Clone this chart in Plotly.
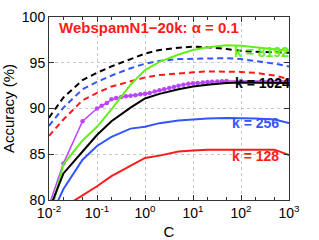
import plotly.graph_objects as go

# ---- data ----
C_main = [0.01, 0.02, 0.05, 0.1, 0.2, 0.5, 1, 2, 5, 10, 20, 50, 100, 200, 500, 1000]

dash_black = [89.0, 91.2, 93.1, 93.9, 94.6, 95.4, 96.0, 96.4, 96.65, 96.75, 96.7, 96.5, 96.3, 96.2, 96.1, 96.1]
dash_blue = [88.1, 90.1, 92.1, 92.9, 93.6, 94.4, 94.9, 95.2, 95.4, 95.45, 95.5, 95.5, 95.4, 95.2, 94.9, 94.6]
dash_red = [87.0, 88.8, 90.9, 91.7, 92.4, 93.0, 93.4, 93.65, 93.85, 93.95, 94.05, 94.06, 94.0, 93.9, 93.6, 93.2]

k8192 = [77.8, 83.9, 86.5, 88.0, 89.9, 92.6, 94.2, 95.1, 95.9, 96.4, 96.7, 96.9, 96.85, 96.7, 96.5, 96.3]
k1024 = [78.9, 82.9, 85.3, 87.1, 88.6, 90.1, 91.1, 91.6, 92.1, 92.4, 92.6, 92.8, 92.85, 92.85, 92.8, 92.8]
k256 = [77.8, 81.2, 84.4, 85.9, 86.9, 87.8, 88.0, 88.4, 88.7, 88.8, 88.9, 88.95, 88.95, 88.9, 88.8, 88.4]
k128 = [77.5, 79.2, 80.5, 81.5, 82.6, 83.7, 84.6, 84.85, 85.3, 85.4, 85.5, 85.5, 85.5, 85.5, 85.5, 84.9]

C_purple = [0.01, 0.02, 0.05, 0.1, 0.125, 0.16, 0.2, 0.25, 0.32, 0.4, 0.5, 0.63, 0.8, 1,
            1.25, 1.6, 2, 2.5, 3.2, 4, 5, 6.3, 8, 10, 12.5, 16, 20, 25, 32, 40, 50, 100, 1000]
purple = [79.4, 84.0, 88.6, 90.0, 90.3, 90.6, 91.0, 91.15, 91.25, 91.35, 91.4, 91.45, 91.55, 91.6,
          91.7, 91.85, 92.0, 92.1, 92.25, 92.35, 92.5, 92.6, 92.7, 92.75, 92.8, 92.85, 92.9, 92.92,
          92.95, 92.97, 93.0, 93.0, 93.0]

x_tickvals = [0.01, 0.1, 1, 10, 100, 1000]
x_ticktext = ["10<sup>-2</sup>", "10<sup>-1</sup>", "10<sup>0</sup>", "10<sup>1</sup>", "10<sup>2</sup>", "10<sup>3</sup>"]
y_tickvals = [80, 85, 90, 95, 100]

title_text = "WebspamN1\u221220k: \u03b1 = 0.1"
labels = ["k = 8192", "k = 1024", "k = 256", "k = 128"]

# ---- colours ----
BLACK = "#000000"
BLUE = "#3355ff"
RED = "#ff1a1a"
GREEN = "#66ee1a"
PURPLE = "#bb44ff"

fig = go.Figure()

def add_line(x, y, color, dash=None, width=2.0, mode="lines", marker=None):
    fig.add_trace(go.Scatter(x=x, y=y, mode=mode,
                             line=dict(color=color, width=width, dash=dash),
                             marker=marker, showlegend=False, hoverinfo="skip"))

add_line(C_main, dash_black, BLACK, dash="6px,4px")
add_line(C_main, dash_blue, BLUE, dash="6px,4px")
add_line(C_main, dash_red, RED, dash="6px,4px")
add_line(C_main, k128, RED)
add_line(C_main, k256, BLUE)
add_line(C_purple, purple, PURPLE, width=1.5, mode="lines+markers",
         marker=dict(size=4.5, color=PURPLE))
add_line(C_main, k8192, GREEN)
add_line(C_main, k1024, BLACK)

font_main = "Liberation Sans, Arial, Helvetica, sans-serif"

fig.add_annotation(x=0.033, y=0.943, xref="paper", yref="paper", text="<b>" + title_text + "</b>",
                   showarrow=False, xanchor="left", yanchor="middle",
                   font=dict(family=font_main, size=15, color=RED))

label_pos = [(2.42, 96.2, GREEN), (2.44, 92.8, BLACK), (2.31, 88.45, BLUE), (2.31, 84.8, RED)]
for txt, (lx, ly, col) in zip(labels, label_pos):
    fig.add_annotation(x=lx, y=ly, xref="x", yref="y", text="<b>" + txt + "</b>",
                       showarrow=False, xanchor="center", yanchor="middle",
                       font=dict(family=font_main, size=14, color=col))

fig.update_xaxes(type="log", range=[-2, 3], tickvals=x_tickvals, ticktext=x_ticktext,
                 ticks="inside", ticklen=5, tickcolor="#333333", automargin=False,
                 showline=True, linecolor="#333333", linewidth=1, mirror="ticks",
                 showgrid=True, gridcolor="#c8c8c8", griddash="dot", gridwidth=1,
                 minor=dict(ticks="inside", ticklen=3, tickcolor="#333333", showgrid=False),
                 title=dict(text="C", font=dict(size=15, family=font_main, color="#000")),
                 tickfont=dict(size=14, family=font_main, color="#000"), zeroline=False)
fig.update_yaxes(range=[80, 100], tickvals=y_tickvals,
                 ticks="inside", ticklen=5, tickcolor="#333333", automargin=False,
                 showline=True, linecolor="#333333", linewidth=1, mirror="ticks",
                 showgrid=True, gridcolor="#c8c8c8", griddash="dot", gridwidth=1,
                 title=dict(text="Accuracy (%)", font=dict(size=15, family=font_main, color="#000")),
                 tickfont=dict(size=14, family=font_main, color="#000"), zeroline=False)

fig.update_layout(width=319, height=240, margin=dict(l=49, r=30, t=17, b=40, autoexpand=False),
                  plot_bgcolor="white", paper_bgcolor="white")

fig.write_html("out.html", config={"displayModeBar": False},
               post_script="document.body.style.margin='0';document.body.style.overflow='hidden';")
